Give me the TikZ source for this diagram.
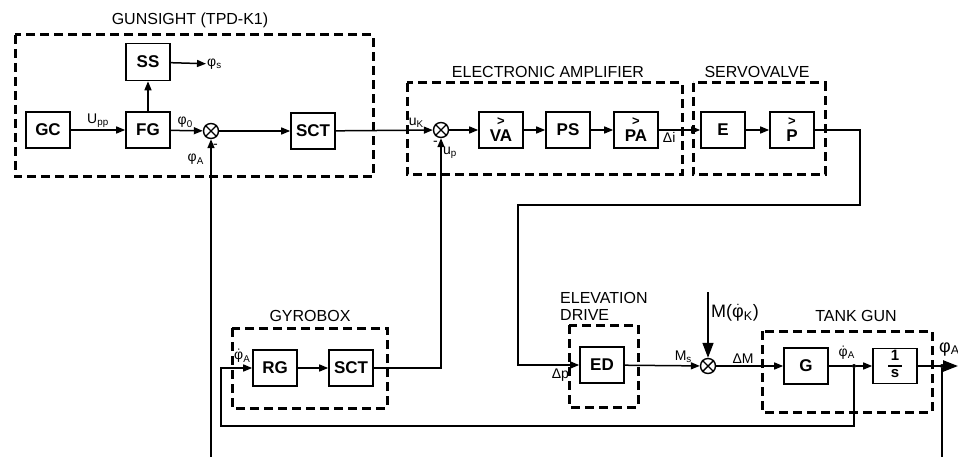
\documentclass[tikz,border=0pt]{standalone}
\usepackage{fontspec}
\setmainfont{Liberation Sans}
\usetikzlibrary{arrows.meta}
\newcommand{\dphi}{\ensuremath{\dot{\mbox{φ}}}}
\newcommand{\gt}{{\fontsize{13}{13}\selectfont >}}

\begin{document}
\begin{tikzpicture}[x=1pt,y=-1pt,
    blk/.style={draw,line width=1.6pt,minimum width=44pt,minimum height=36pt,inner sep=0pt,
        align=center,font=\fontsize{17}{16}\selectfont\bfseries},
    grp/.style={draw,line width=3pt,dash pattern=on 9pt off 5pt},
    ttl/.style={font=\fontsize{16}{17}\selectfont},
    lbl/.style={font=\fontsize{14}{14}\selectfont,inner sep=1pt},
    sumnode/.style={draw,circle,line width=1.4pt,minimum size=15pt,inner sep=0pt},
    wire/.style={line width=1.5pt},
    sig/.style={wire,-{Triangle[length=9pt,width=7pt]}},
    distsig/.style={wire,-{Triangle[length=15pt,width=11pt]}},
    bigsig/.style={line width=2.4pt,-{Triangle[length=15pt,width=11pt]}},
    tapdot/.style={circle,fill,inner sep=0pt,minimum size=4pt}]
    \useasboundingbox (0,0) rectangle (958,457);

    % group frames
    \draw[grp] (15,35) rectangle (373,177);
    \node[ttl] (tgun) at (190,20) {GUNSIGHT (TPD-K1)};
    \draw[grp] (407,83) rectangle (682,175);
    \node[ttl] (tamp) at (548,72) {ELECTRONIC AMPLIFIER};
    \draw[grp] (693,83) rectangle (825,175);
    \node[ttl] (tsv) at (757,72) {SERVOVALVE};
    \draw[grp] (232,328) rectangle (387,408);
    \node[ttl] (tgyro) at (310,316) {GYROBOX};
    \draw[grp] (569,325) rectangle (638,407);
    \node[ttl,align=left,anchor=south west,inner sep=0pt] (ted) at (560,321) {ELEVATION\\DRIVE};
    \draw[grp] (762,331) rectangle (932,412);
    \node[ttl] (ttank) at (856,316) {TANK GUN};

    % blocks
    \node[blk] (gc) at (48,130) {GC};
    \node[blk] (fg) at (148,130) {FG};
    \node[blk,minimum height=37pt] (ss) at (148,62) {SS};
    \node[sumnode] (sum1) at (211,131) {};
    \node[blk] (sct1) at (313,131) {SCT};
    \node[sumnode] (sum2) at (441,130) {};
    \node[blk] (va) at (501,130) {\gt\\VA};
    \node[blk] (ps) at (568,130) {PS};
    \node[blk] (pa) at (636,130) {\gt\\PA};
    \node[blk] (e) at (723,130) {E};
    \node[blk] (p) at (792,130) {\gt\\P};
    \node[blk] (rg) at (275,368) {RG};
    \node[blk] (sct2) at (351,368) {SCT};
    \node[blk] (ed) at (602,365) {ED};
    \node[sumnode] (sum3) at (708,366) {};
    \node[blk] (g) at (806,366) {G};
    \node[blk,minimum height=35pt,font=\fontsize{15}{15}\selectfont\bfseries] (integ) at (895,366)
        {\setlength{\arrayrulewidth}{1.2pt}\begin{tabular}{@{\,}c@{\,}}1\\\hline s\end{tabular}};
    \foreach \s in {sum1,sum2,sum3} {
        \draw[line width=1.4pt] (\s.north west) -- (\s.south east) (\s.north east) -- (\s.south west);
    }

    % taps and free ends
    \node[tapdot] (tap1) at (854,366) {};
    \node[tapdot] (tap2) at (942,366) {};
    \node[lbl,anchor=west] (phis) at (206,64) {φ\textsubscript{s}};
    \coordinate (fb1) at (211,457);
    \coordinate (fb2) at (942,457);
    \coordinate (dist) at (708,292);
    \coordinate (out) at (958,366);

    % signals
    \draw[sig] (gc) -- node[lbl,above=1pt]{U\textsubscript{pp}} (fg);
    \draw[sig] (fg) -- (ss);
    \draw[sig] (ss) -- (phis);
    \draw[sig] (fg) -- node[lbl,above=1pt,pos=0.45]{φ\textsubscript{0}} (sum1);
    \draw[sig] (fb1) -- (sum1);
    \node[lbl,anchor=north east] (lphia) at ([xshift=-6pt,yshift=-14pt]sum1.south) {φ\textsubscript{A}};
    \node[lbl,anchor=north west] (lm1) at ([xshift=1pt,yshift=-4pt]sum1.south) {-};
    \draw[sig] (sum1) -- (sct1);
    \draw[sig] (sct1) -- node[lbl,above=1pt,pos=0.83]{u\textsubscript{K}} (sum2);
    \draw[sig] (sct2) -| (sum2);
    \node[lbl,anchor=north west] (lup) at ([xshift=1pt,yshift=-8pt]sum2.south) {u\textsubscript{p}};
    \node[lbl,anchor=north east] (lm2) at ([xshift=-2pt,yshift=-2pt]sum2.south) {-};
    \draw[sig] (sum2) -- (va);
    \draw[sig] (va) -- (ps);
    \draw[sig] (ps) -- (pa);
    \draw[sig] (pa) -- node[lbl,below=1pt,pos=0.25]{Δi} (e);
    \draw[sig] (e) -- (p);
    \draw[sig] (p.east) -- (860,130) -- (860,205) -- (518,205) |- (ed.west);
    \node[lbl,anchor=north east] (ldp) at ([xshift=-9pt,yshift=-3pt]ed.west) {Δp};
    \draw[sig] (ed) -- node[lbl,above=1pt,pos=0.78]{M\textsubscript{s}} (sum3);
    \draw[distsig] (dist) -- (sum3.north);
    \node[font=\fontsize{18}{18}\selectfont,anchor=west,inner sep=1pt] (ldist) at (710,313) {M(\dphi\textsubscript{K})};
    \draw[sig] (sum3) -- node[lbl,above=1pt,pos=0.4]{ΔM} (g);
    \draw[wire] (g) -- (tap1);
    \draw[sig] (tap1) -- (integ);
    \node[lbl,anchor=south east] (ldphia) at ([xshift=2pt,yshift=3pt]tap1.north) {\dphi\textsubscript{A}};
    \draw[bigsig] (integ) -- (out);
    \node[font=\fontsize{18}{18}\selectfont,anchor=south west,inner sep=1pt] (lout) at (938,357) {φ\textsubscript{A}};
    \draw[wire] (tap2) -- (fb2);
    \draw[sig] (tap1) |- (221,426) |- (rg.west);
    \node[lbl,anchor=south west] (lrg) at (233,364) {\dphi\textsubscript{A}};
    \draw[sig] (rg) -- (sct2);
\end{tikzpicture}
\end{document}
